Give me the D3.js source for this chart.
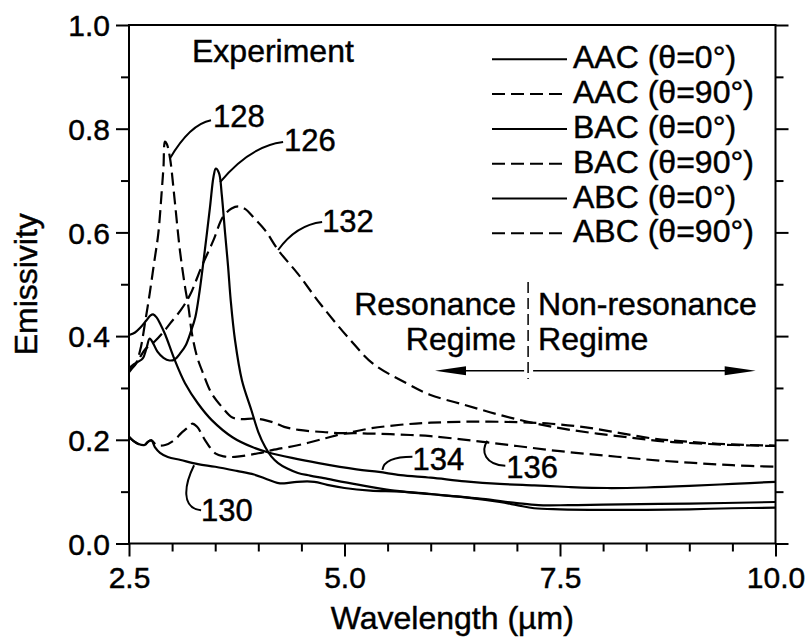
<!DOCTYPE html>
<html>
<head>
<meta charset="utf-8">
<script src="https://cdn.jsdelivr.net/npm/d3@7"></script>
<style>
  body { margin: 0; background: #fff; }
  svg { display: block; background: #fff; }
  text { font-family: "Liberation Sans", Arial, Helvetica, sans-serif; fill: #000; stroke: #000; stroke-width: 0.45px; }
</style>
</head>
<body>
<svg id="chart" width="806" height="641"></svg>
<script>
// ---- axis ticks ----
const xTickValues = [2.5, 5.0, 7.5, 10.0];
const yTickValues = [0.0, 0.2, 0.4, 0.6, 0.8, 1.0];
const xMinorValues = [3.0, 3.5, 4.0, 4.5, 5.5, 6.0, 6.5, 7.0, 8.0, 8.5, 9.0, 9.5];
const yMinorValues = [0.1, 0.3, 0.5, 0.7, 0.9];

// ---- measured emissivity spectra: [wavelength (µm), emissivity] ----
const curve126 = [[2.5,0.338],[2.55,0.345],[2.6,0.35],[2.66,0.357],[2.7,0.375],[2.74,0.395],[2.78,0.386],[2.83,0.37],[2.9,0.358],[2.97,0.353],[3.03,0.355],[3.1,0.368],[3.16,0.383],[3.22,0.41],[3.27,0.437],[3.32,0.488],[3.38,0.566],[3.44,0.649],[3.48,0.707],[3.507,0.723],[3.545,0.714],[3.575,0.675],[3.615,0.598],[3.65,0.533],[3.68,0.469],[3.73,0.392],[3.81,0.315],[3.92,0.257],[4.0,0.215],[4.08,0.186],[4.15,0.168],[4.23,0.155],[4.33,0.145],[4.46,0.136],[4.6,0.131],[4.76,0.126],[5.14,0.114],[5.53,0.103],[5.9,0.097],[6.23,0.092],[6.6,0.086],[7.0,0.078],[7.25,0.074],[7.6,0.074],[8.0,0.075],[9.0,0.077],[10.0,0.080]];
const curve128 = [[2.5,0.335],[2.57,0.344],[2.63,0.373],[2.69,0.43],[2.74,0.482],[2.79,0.54],[2.84,0.598],[2.88,0.68],[2.9,0.726],[2.918,0.775],[2.94,0.77],[2.976,0.743],[3.03,0.662],[3.09,0.566],[3.15,0.495],[3.19,0.456],[3.23,0.405],[3.29,0.36],[3.36,0.328],[3.46,0.289],[3.58,0.263],[3.7,0.243],[3.8,0.24],[3.96,0.241],[4.1,0.237],[4.2,0.232],[4.3,0.225],[4.47,0.219],[4.75,0.215],[5.0,0.213],[5.3,0.222],[5.65,0.229],[6.0,0.233],[6.5,0.235],[7.0,0.234],[7.4,0.231],[7.8,0.224],[8.2,0.213],[8.6,0.202],[9.0,0.196],[9.5,0.191],[10.0,0.189]];
const curve130 = [[2.5,0.206],[2.55,0.198],[2.61,0.192],[2.68,0.19],[2.72,0.196],[2.76,0.199],[2.8,0.186],[2.86,0.175],[2.95,0.167],[3.1,0.161],[3.3,0.153],[3.5,0.148],[3.75,0.14],[3.95,0.133],[4.1,0.124],[4.22,0.117],[4.3,0.116],[4.45,0.119],[4.65,0.119],[4.8,0.113],[5.0,0.107],[5.3,0.102],[5.65,0.1],[6.0,0.095],[6.4,0.089],[6.8,0.08],[7.0,0.074],[7.2,0.068],[7.5,0.066],[8.0,0.065],[8.5,0.065],[9.0,0.066],[9.5,0.068],[10.0,0.069]];
const curve132 = [[2.5,0.33],[2.6,0.352],[2.69,0.375],[2.8,0.39],[2.9,0.408],[2.98,0.425],[3.1,0.45],[3.21,0.48],[3.34,0.533],[3.48,0.585],[3.59,0.63],[3.69,0.646],[3.77,0.65],[3.85,0.645],[3.95,0.628],[4.08,0.604],[4.23,0.566],[4.46,0.52],[4.72,0.462],[5.07,0.392],[5.33,0.347],[5.72,0.309],[5.99,0.287],[6.38,0.268],[6.8,0.248],[7.2,0.232],[7.55,0.221],[7.93,0.212],[8.33,0.204],[8.7,0.197],[9.1,0.193],[9.5,0.19],[10.0,0.188]];
const curve134 = [[2.5,0.402],[2.57,0.407],[2.63,0.416],[2.7,0.43],[2.75,0.44],[2.78,0.442],[2.82,0.436],[2.87,0.421],[2.92,0.403],[3.03,0.354],[3.15,0.309],[3.3,0.27],[3.46,0.238],[3.7,0.205],[3.93,0.186],[4.11,0.176],[4.39,0.165],[4.7,0.155],[5.14,0.143],[5.4,0.138],[5.65,0.132],[6.0,0.127],[6.4,0.12],[6.8,0.115],[7.2,0.112],[7.6,0.109],[8.05,0.107],[8.5,0.108],[9.0,0.111],[9.5,0.115],[10.0,0.119]];
const curve136 = [[2.5,0.206],[2.55,0.198],[2.61,0.192],[2.68,0.19],[2.72,0.196],[2.76,0.199],[2.82,0.19],[2.92,0.19],[3.03,0.2],[3.1,0.212],[3.17,0.222],[3.23,0.231],[3.29,0.225],[3.38,0.2],[3.5,0.174],[3.6,0.168],[3.73,0.167],[4.0,0.174],[4.16,0.18],[4.47,0.19],[4.78,0.203],[5.0,0.212],[5.3,0.212],[5.65,0.21],[6.0,0.207],[6.5,0.198],[7.0,0.188],[7.5,0.178],[8.0,0.17],[8.5,0.162],[9.0,0.156],[9.5,0.151],[10.0,0.148]];

// ---- legend ----
const legendLabels = ["AAC (θ=0°)", "AAC (θ=90°)", "BAC (θ=0°)", "BAC (θ=90°)", "ABC (θ=0°)", "ABC (θ=90°)"];
const legendDashed = [false, true, false, true, false, true];

// ---- reference numerals and the point on each curve their leader touches ----
const calloutNames = ["128", "126", "132", "130", "134", "136"];
const calloutAnchors = [[2.976, 0.743], [3.557, 0.697], [4.23, 0.566], [3.255, 0.151], [5.44, 0.142], [6.657, 0.198]];

// boundary between the two regimes (µm) and arrow geometry
const regimeBoundary = 7.13;
const arrowLevel = 0.333;
const arrowTips = [6.05, 9.77];

const svg = d3.select("#chart");
const x = d3.scaleLinear().domain([2.5, 10]).range([129, 775.5]);
const y = d3.scaleLinear().domain([0, 1]).range([543.5, 25]);

const FONT = 32;

// ---- axes ----
function styleAxis(g) {
  g.select(".domain").remove();
  g.selectAll(".tick line").attr("stroke", "#000").attr("stroke-width", 2);
  g.selectAll(".tick text").style("font-family", '"Liberation Sans", Arial, sans-serif').attr("fill", "#000");
}

svg.append("g").attr("transform", `translate(${x(2.5)},0)`)
  .call(d3.axisLeft(y).tickValues(yTickValues).tickSize(13).tickSizeOuter(0).tickPadding(6).tickFormat(d3.format(".1f")))
  .call(styleAxis)
  .call(g => g.selectAll(".tick text").style("font-size", "30px").attr("dy", "0.36em"));
svg.append("g").attr("transform", `translate(${x(2.5)},0)`)
  .call(d3.axisLeft(y).tickValues(yMinorValues).tickSize(8).tickSizeOuter(0).tickFormat(""))
  .call(styleAxis);

svg.append("g").attr("transform", `translate(${x(10)},0)`)
  .call(d3.axisRight(y).tickValues(yTickValues).tickSize(13).tickSizeOuter(0).tickFormat(""))
  .call(styleAxis);
svg.append("g").attr("transform", `translate(${x(10)},0)`)
  .call(d3.axisRight(y).tickValues(yMinorValues).tickSize(8).tickSizeOuter(0).tickFormat(""))
  .call(styleAxis);

svg.append("g").attr("transform", `translate(0,${y(0)})`)
  .call(d3.axisBottom(x).tickValues(xTickValues).tickSize(13).tickSizeOuter(0).tickFormat(d3.format(".1f")))
  .call(styleAxis)
  .call(g => g.selectAll(".tick text").style("font-size", "30px").attr("y", 44.5).attr("dy", 0));
svg.append("g").attr("transform", `translate(0,${y(0)})`)
  .call(d3.axisBottom(x).tickValues(xMinorValues).tickSize(8).tickSizeOuter(0).tickFormat(""))
  .call(styleAxis);

// frame
svg.append("rect")
  .attr("x", x(2.5)).attr("y", y(1))
  .attr("width", x(10) - x(2.5)).attr("height", y(0) - y(1))
  .attr("fill", "none").attr("stroke", "#000").attr("stroke-width", 2);

// axis titles
svg.append("text")
  .attr("x", (x(2.5) + x(10)) / 2).attr("y", 629)
  .attr("text-anchor", "middle").style("font-size", FONT + "px")
  .text("Wavelength (µm)");
svg.append("text")
  .attr("transform", `translate(37,${(y(0) + y(1)) / 2}) rotate(-90)`)
  .attr("text-anchor", "middle").style("font-size", FONT + "px")
  .text("Emissivity");

// ---- spectra ----
const line = d3.line().x(d => x(d[0])).y(d => y(d[1])).curve(d3.curveCatmullRom.alpha(0.5));
const DASH = "13,6";
const series = [
  { data: curve130, dashed: false },
  { data: curve134, dashed: false },
  { data: curve126, dashed: false },
  { data: curve136, dashed: true },
  { data: curve128, dashed: true },
  { data: curve132, dashed: true }
];
svg.append("g").selectAll("path").data(series).join("path")
  .attr("d", d => line(d.data))
  .attr("fill", "none").attr("stroke", "#000").attr("stroke-width", 2.2)
  .attr("stroke-linejoin", "round")
  .attr("stroke-dasharray", d => d.dashed ? DASH : null);

// ---- "Experiment" caption ----
svg.append("text").attr("x", 192).attr("y", 62).style("font-size", FONT + "px").text("Experiment");

// ---- legend ----
const lg = svg.append("g");
legendLabels.forEach((label, i) => {
  const ly = 59.3 + i * 34.8;
  lg.append("line").attr("x1", 492).attr("x2", 567).attr("y1", ly).attr("y2", ly)
    .attr("stroke", "#000").attr("stroke-width", 2)
    .attr("stroke-dasharray", legendDashed[i] ? "13,6" : null);
  lg.append("text").attr("x", 573).attr("y", ly + 9).style("font-size", FONT + "px").text(label);
});

// ---- reference-numeral callouts ----
// leader shapes: control / end offsets relative to the anchor, and text offset
const leaderShapes = [
  { d: (p) => `M${p[0]},${p[1]} Q${p[0] + 20},${p[1] - 34} ${p[0] + 41},${p[1] - 38}`, t: [43, -31] },
  { d: (p) => `M${p[0]},${p[1]} Q${p[0] + 30},${p[1] - 36} ${p[0] + 63},${p[1] - 40}`, t: [64, -31] },
  { d: (p) => `M${p[0]},${p[1]} Q${p[0] + 18},${p[1] - 25} ${p[0] + 44},${p[1] - 28}`, t: [44, -18] },
  { d: (p) => `M${p[0]},${p[1]} C${p[0] - 10},${p[1] + 20} ${p[0] - 13},${p[1] + 43} ${p[0] + 7},${p[1] + 45}`, t: [7, 56] },
  { d: (p) => `M${p[0]},${p[1]} Q${p[0] + 2},${p[1] - 13} ${p[0] + 30},${p[1] - 13}`, t: [30, 0] },
  { d: (p) => `M${p[0]},${p[1]} C${p[0] - 7},${p[1] + 11} ${p[0] - 2},${p[1] + 24} ${p[0] + 18},${p[1] + 25}`, t: [19, 37] }
];
const cg = svg.append("g");
calloutNames.forEach((name, i) => {
  const p = [x(calloutAnchors[i][0]), y(calloutAnchors[i][1])];
  cg.append("path").attr("d", leaderShapes[i].d(p))
    .attr("fill", "none").attr("stroke", "#000").attr("stroke-width", 2);
  cg.append("text").attr("x", p[0] + leaderShapes[i].t[0]).attr("y", p[1] + leaderShapes[i].t[1])
    .style("font-size", "31px").text(name);
});

// ---- regime annotation ----
const bx = x(regimeBoundary);
const ay = y(arrowLevel);
svg.append("line").attr("x1", bx).attr("x2", bx).attr("y1", 282).attr("y2", 379)
  .attr("stroke", "#000").attr("stroke-width", 1.5).attr("stroke-dasharray", "11,5");
svg.append("text").attr("x", bx - 12).attr("y", 315).attr("text-anchor", "end").style("font-size", FONT + "px").text("Resonance");
svg.append("text").attr("x", bx - 12).attr("y", 350).attr("text-anchor", "end").style("font-size", FONT + "px").text("Regime");
svg.append("text").attr("x", bx + 10).attr("y", 315).style("font-size", FONT + "px").text("Non-resonance");
svg.append("text").attr("x", bx + 10).attr("y", 350).style("font-size", FONT + "px").text("Regime");

const lt = x(arrowTips[0]), rt = x(arrowTips[1]);
svg.append("line").attr("x1", bx - 4).attr("x2", lt + 20).attr("y1", ay).attr("y2", ay).attr("stroke", "#000").attr("stroke-width", 1.5);
svg.append("line").attr("x1", bx + 5).attr("x2", rt - 20).attr("y1", ay).attr("y2", ay).attr("stroke", "#000").attr("stroke-width", 1.5);
svg.append("path").attr("d", `M${lt},${ay} L${lt + 31},${ay - 4.5} L${lt + 31},${ay + 4.5} Z`).attr("fill", "#000");
svg.append("path").attr("d", `M${rt},${ay} L${rt - 31},${ay - 4.5} L${rt - 31},${ay + 4.5} Z`).attr("fill", "#000");
</script>
</body>
</html>
